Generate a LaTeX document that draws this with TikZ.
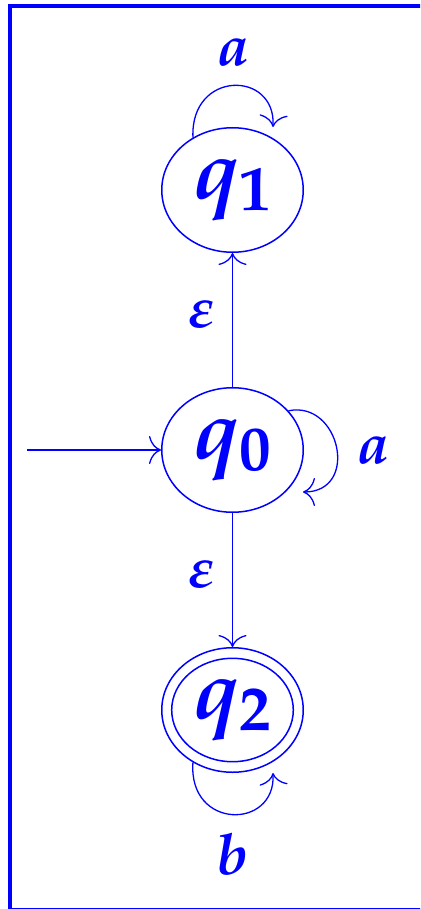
\documentclass[tikz,border=0pt]{standalone}
\usepackage{mathpazo}
\usetikzlibrary{shapes.geometric,arrows.meta,calc}
\definecolor{dfablue}{RGB}{0,0,255}
\begin{document}
\begin{tikzpicture}[x=1pt,y=-1pt,
  state/.style={ellipse, draw=dfablue, line width=1.5pt, minimum width=141.5pt,
    minimum height=124.5pt, inner sep=0pt, text=dfablue,
    font=\fontsize{83}{90}\selectfont\boldmath},
  edge/.style={draw=dfablue, line width=1.3pt, -{To[length=12pt,width=28pt]}},
  lbl/.style={text=dfablue, font=\fontsize{57}{60}\selectfont\boldmath, inner sep=0pt}]
\useasboundingbox (0,0) rectangle (420,909);
\clip (0,0) rectangle (420,909);
\draw[dfablue, line width=4pt] (470,5.7) -- (10,5.7) -- (10,909.5) -- (470,909.5);
\node[state] (q1) at (232.5,190) {$q_1$};
\node[state] (q0) at (232.5,450) {$q_0$};
\node[state] (q2) at (232.5,710) {$q_2$};
\draw[dfablue, line width=1.5pt] (q2.center) ellipse [x radius=60.8pt, y radius=51.7pt];
\coordinate (start) at (27,450);
\draw[edge] (start) -- (q0);
\draw[edge] (q0) -- (q1);
\draw[edge] (q0) -- (q2);
\draw[edge] (q1.127) .. controls ($(q1.center)+(-42.5,-120)$) and ($(q1.center)+(43.5,-120)$) .. ($(q1.center)+(40.5,-63)$);
\draw[edge] (q0.35) .. controls ($(q0.center)+(107.5,-50)$) and ($(q0.center)+(127.5,42)$) .. ($(q0.center)+(70.5,42)$);
\draw[edge] (q2.233) .. controls ($(q2.center)+(-44.5,120)$) and ($(q2.center)+(43.5,120)$) .. ($(q2.center)+(40.5,63)$);
\node[lbl] (la1) at (233,53) {$a$};
\node[lbl] (la0) at (373,451) {$a$};
\node[lbl] (lb2) at (232.5,854) {$b$};
\node[lbl] (le1) at (202,315) {$\varepsilon$};
\node[lbl] (le2) at (202,575) {$\varepsilon$};
\end{tikzpicture}
\end{document}
